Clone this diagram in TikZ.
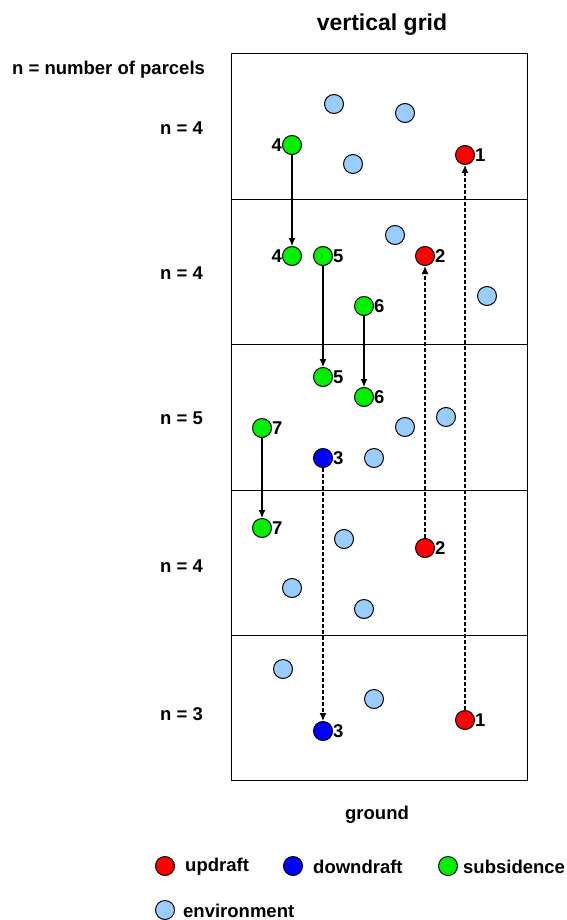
\documentclass[tikz,border=0pt]{standalone}
\usepackage{fontspec}
\setmainfont{Liberation Sans}
\usetikzlibrary{arrows.meta}
\definecolor{updcol}{RGB}{255,0,0}
\definecolor{dndcol}{RGB}{0,0,255}
\definecolor{subcol}{RGB}{0,240,0}
\definecolor{envcol}{RGB}{153,204,255}
\tikzset{
	parcel/.style={circle,draw,line width=1pt,minimum size=19pt,inner sep=0pt},
	upd/.style={parcel,fill=updcol},
	dnd/.style={parcel,fill=dndcol},
	sub/.style={parcel,fill=subcol},
	env/.style={parcel,fill=envcol},
	txt/.style={font=\fontsize{18.5}{18}\selectfont\bfseries,inner sep=0pt},
	big/.style={font=\fontsize{18.5}{18}\selectfont\bfseries,inner sep=0pt},
	num/.style={label distance=3pt,label={[txt]#1}},
	fall/.style={-{Latex[length=8pt,width=7pt]},line width=1.1pt},
	lift/.style={-{Latex[length=8pt,width=7pt]},line width=1.4pt,dash pattern=on 4pt off 2pt}
}
\begin{document}
\begin{tikzpicture}[x=1pt,y=-1pt]
	\useasboundingbox (0,0) rectangle (566,920);
	% grid
	\draw[line width=1pt] (231,54) rectangle (527,780);
	\foreach \y in {199,344,490,635}
		\draw[line width=1pt] (231,\y)--(527,\y);
	\node[font=\fontsize{23}{23}\selectfont\bfseries] (title) at (382,25){vertical grid};
	\node[big,anchor=west] (key) at (12,70){n = number of parcels};
	\node[txt,anchor=east] (n1) at (203,128){n = 4};
	\node[txt,anchor=east] (n2) at (203,273){n = 4};
	\node[txt,anchor=east] (n3) at (203,418){n = 5};
	\node[txt,anchor=east] (n4) at (203,566){n = 4};
	\node[txt,anchor=east] (n5) at (203,714){n = 3};
	\node[big] (ground) at (377,815){ground};
	% environment
	\foreach \x/\y in {334/104,405/113,353/164,395/235,487/296,405/427,446/417,374/458,
			344/539,292/588,364/609,283/669,374/699}
		\node[env] at (\x,\y){};
	% moving parcels
	\node[sub,num=left:4] (g4a) at (292,145){};
	\node[upd,num=right:1] (r1b) at (465,155){};
	\node[sub,num=left:4] (g4b) at (292,256){};
	\node[sub,num=right:5] (g5a) at (323,256){};
	\node[upd,num=right:2] (r2b) at (425,256){};
	\node[sub,num=right:6] (g6a) at (364,306){};
	\node[sub,num=right:5] (g5b) at (323,377){};
	\node[sub,num=right:6] (g6b) at (364,397){};
	\node[sub,num=right:7] (g7a) at (262,428){};
	\node[dnd,num=right:3] (b3a) at (323,458){};
	\node[sub,num=right:7] (g7b) at (262,528){};
	\node[upd,num=right:2] (r2a) at (425,548){};
	\node[upd,num=right:1] (r1a) at (465,720){};
	\node[dnd,num=right:3] (b3b) at (323,731){};
	\draw[fall] (g4a)--(g4b);
	\draw[fall] (g5a)--(g5b);
	\draw[fall] (g6a)--(g6b);
	\draw[fall] (g7a)--(g7b);
	\draw[lift] (r1a)--(r1b);
	\draw[lift] (r2a)--(r2b);
	\draw[lift] (b3a)--(b3b);
	% legend
	\node[upd] (kupd) at (165,866){};
	\node[big,anchor=west] at (185,867){updraft};
	\node[dnd] (kdnd) at (293,866){};
	\node[big,anchor=west] at (313,867){downdraft};
	\node[sub] (ksub) at (448,866){};
	\node[big,anchor=west] at (463,867){subsidence};
	\node[env] (kenv) at (165,910){};
	\node[big,anchor=west] at (183,911){environment};
\end{tikzpicture}
\end{document}
